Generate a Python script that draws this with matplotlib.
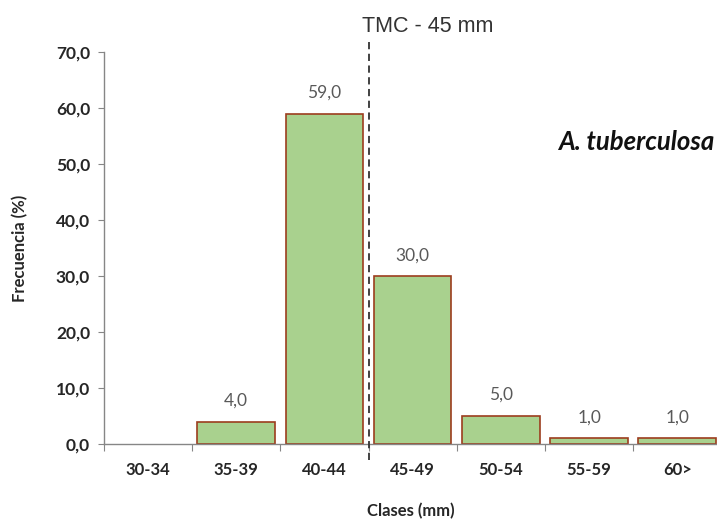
import matplotlib
matplotlib.use("Agg")
import matplotlib.pyplot as plt
import matplotlib.transforms as mtransforms

# datos
clases = ['30-34', '35-39', '40-44', '45-49', '50-54', '55-59', '60>']
frecuencia = [0.0, 4.0, 59.0, 30.0, 5.0, 1.0, 1.0]
etiquetas = [None, '4,0', '59,0', '30,0', '5,0', '1,0', '1,0']
y_ticks = [0, 10, 20, 30, 40, 50, 60, 70]
tmc_pos = 2.5  # límite entre 40-44 y 45-49

plt.rcParams['font.family'] = ['Lato', 'DejaVu Sans']

fig = plt.figure(figsize=(7.17, 5.21), dpi=100)
ax = fig.add_axes([0.145, 0.148, 0.855, 0.752])

x = list(range(len(clases)))
bars = ax.bar(x, frecuencia, width=0.88, color='#A9D18E', edgecolor='#9C3D1E', linewidth=1.2, zorder=2)
bars[0].set_visible(False)

for xi, v, lab in zip(x, frecuencia, etiquetas):
    if lab is None:
        continue
    ax.annotate(lab, (xi, v), xytext=(0, 15), textcoords='offset points',
                ha='center', va='center', fontsize=12.5, color='#595959')

ax.set_xlim(-0.5, 6.45)
ax.set_ylim(0, 70)
ax.set_yticks(y_ticks)
ax.set_yticklabels([f'{t:.1f}'.replace('.', ',') for t in y_ticks], fontsize=12.5, fontweight='bold', color='#262626')

# ticks del eje x en los límites de clase
ax.set_xticks([i - 0.5 for i in range(len(clases))])
ax.set_xticklabels([])
ax.set_xticks(x, minor=True)
ax.set_xticklabels(clases, minor=True, fontsize=12, fontweight='bold', color='#262626')
ax.tick_params(axis='x', which='minor', length=0, pad=13)
ax.tick_params(axis='x', which='major', length=5, color='#868686')
ax.tick_params(axis='y', length=4, color='#868686', pad=6)

for s in ['top', 'right']:
    ax.spines[s].set_visible(False)
for s in ['left', 'bottom']:
    ax.spines[s].set_color('#868686')
    ax.spines[s].set_linewidth(1.0)

ax.set_xlabel('Clases (mm)', fontsize=12, fontweight='bold', color='#262626', labelpad=18)
ax.set_ylabel('Frecuencia (%)', fontsize=12, fontweight='bold', color='#262626', labelpad=20)

# línea TMC
trans = mtransforms.blended_transform_factory(ax.transData, ax.transAxes)
ax.plot([tmc_pos, tmc_pos], [-0.04, 1.03], transform=trans, color='#333333',
        linestyle=(0, (4, 2.5)), linewidth=1.3, clip_on=False, zorder=3)
ax.text(tmc_pos - 0.07, 1.065, 'TMC - 45 mm', transform=trans, fontsize=15.5,
        family='Liberation Sans', color='#333333', ha='left', va='center')

ax.text(6.42, 54, 'A. tuberculosa', fontsize=18.5, fontweight='bold', fontstyle='italic',
        ha='right', va='center', color='#111111')

fig.savefig('out.png', dpi=100)
